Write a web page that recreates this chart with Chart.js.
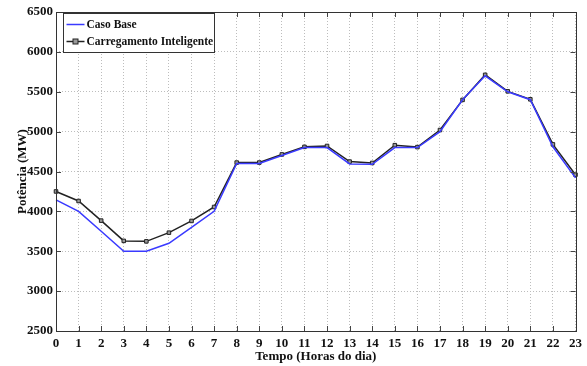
<!DOCTYPE html>
<html>
<head>
<meta charset="utf-8">
<script src="https://cdn.jsdelivr.net/npm/chart.js@4.4.1/dist/chart.umd.min.js"></script>
<style>
  html, body { margin: 0; padding: 0; background: #fff; }
  #wrap { width: 587px; height: 366px; }
</style>
</head>
<body>
<div id="wrap"><canvas id="chart" width="587" height="366"></canvas></div>
<script>
const hours = ['0','1','2','3','4','5','6','7','8','9','10','11','12','13','14','15','16','17','18','19','20','21','22','23'];
const casoBase = [4145, 4000, 3750, 3500, 3500, 3600, 3800, 4000, 4600, 4600, 4700, 4800, 4800, 4595, 4590, 4800, 4800, 5000, 5400, 5700, 5500, 5400, 4810, 4420];
const carregamento = [4250, 4130, 3884, 3630, 3624, 3733, 3880, 4055, 4612, 4612, 4714, 4809, 4820, 4624, 4607, 4830, 4806, 5020, 5398, 5712, 5505, 5405, 4840, 4460];
const yTicks = [2500, 3000, 3500, 4000, 4500, 5000, 5500, 6000, 6500];

const SERIF = '"Liberation Serif", "Times New Roman", serif';
Chart.defaults.font.family = SERIF;
Chart.defaults.font.weight = 'bold';
Chart.defaults.color = '#111';

/* ── box, inside ticks, legend ── */
const framePlugin = {
  id: 'frame',
  afterDraw(chart) {
    const { ctx, chartArea: a, scales } = chart;
    ctx.save();
    // inner tick marks
    ctx.strokeStyle = '#444';
    ctx.lineWidth = 1;
    ctx.beginPath();
    yTicks.forEach(v => {
      const y = Math.round(scales.y.getPixelForValue(v)) + 0.5;
      ctx.moveTo(a.left, y); ctx.lineTo(a.left + 5, y);
      ctx.moveTo(a.right, y); ctx.lineTo(a.right - 5, y);
    });
    hours.forEach((h, i) => {
      const x = Math.round(scales.x.getPixelForValue(i)) + 0.5;
      ctx.moveTo(x, a.bottom); ctx.lineTo(x, a.bottom - 5);
      ctx.moveTo(x, a.top); ctx.lineTo(x, a.top + 5);
    });
    ctx.stroke();
    // frame
    ctx.strokeStyle = '#333';
    ctx.strokeRect(Math.round(a.left) + 0.5, Math.round(a.top) + 0.5,
      Math.round(a.right - a.left), Math.round(a.bottom - a.top));

    // legend
    const lx = Math.round(a.left) + 7.5, ly = Math.round(a.top) + 1.5;
    const lw = 151, lh = 39;
    ctx.fillStyle = '#fff';
    ctx.fillRect(lx, ly, lw, lh);
    ctx.strokeStyle = '#333';
    ctx.strokeRect(lx, ly, lw, lh);
    ctx.font = 'bold 11.5px ' + SERIF;
    ctx.textBaseline = 'middle';
    chart.data.datasets.forEach((ds, i) => {
      const ry = ly + 11 + i * 17;
      ctx.strokeStyle = ds.borderColor;
      ctx.lineWidth = 1.5;
      ctx.beginPath();
      ctx.moveTo(lx + 3, ry); ctx.lineTo(lx + 21, ry);
      ctx.stroke();
      if (ds.pointRadius > 0) {
        ctx.fillStyle = ds.pointBackgroundColor;
        ctx.lineWidth = 1;
        ctx.strokeStyle = ds.pointBorderColor;
        ctx.fillRect(lx + 9.5, ry - 2.5, 5, 5);
        ctx.strokeRect(lx + 9.5, ry - 2.5, 5, 5);
      }
      ctx.fillStyle = '#111';
      ctx.fillText(ds.label, lx + 23, ry + 1);
    });
    ctx.restore();
  }
};

new Chart(document.getElementById('chart'), {
  type: 'line',
  data: {
    labels: hours,
    datasets: [
      {
        label: 'Caso Base',
        data: casoBase,
        borderColor: '#3a3aff',
        borderWidth: 1.5,
        pointRadius: 0,
        tension: 0
      },
      {
        label: 'Carregamento Inteligente',
        data: carregamento,
        borderColor: '#222',
        borderWidth: 1.5,
        pointStyle: 'rect',
        pointRadius: 2.5,
        pointBackgroundColor: '#999',
        pointBorderColor: '#222',
        pointBorderWidth: 1,
        tension: 0
      }
    ]
  },
  options: {
    responsive: false,
    animation: false,
    layout: { padding: { top: 12, right: 9, left: 0, bottom: 0 } },
    plugins: {
      legend: { display: false },
      tooltip: { enabled: false }
    },
    scales: {
      x: {
        offset: false,
        grid: { color: '#bdbdbd', drawTicks: false },
        border: { display: false, dash: [1, 2] },
        ticks: { padding: 5, font: { size: 13, weight: 'bold' }, color: '#111', maxRotation: 0, autoSkip: false },
        title: { display: true, text: 'Tempo (Horas do dia)', font: { size: 13, weight: 'bold' }, color: '#111', padding: { top: 0, bottom: 2 } },
        afterFit: s => { s.height = 35; }
      },
      y: {
        min: 2500,
        max: 6500,
        grid: { color: '#bdbdbd', drawTicks: false },
        border: { display: false, dash: [1, 2] },
        ticks: { stepSize: 500, padding: 3, font: { size: 13, weight: 'bold' }, color: '#111', callback: v => String(v) },
        title: { display: true, text: 'Potência (MW)', font: { size: 13, weight: 'bold' }, color: '#111', padding: { top: 15, bottom: 0 } },
        afterFit: s => { s.width = 56; }
      }
    }
  },
  plugins: [framePlugin]
});
</script>
</body>
</html>
